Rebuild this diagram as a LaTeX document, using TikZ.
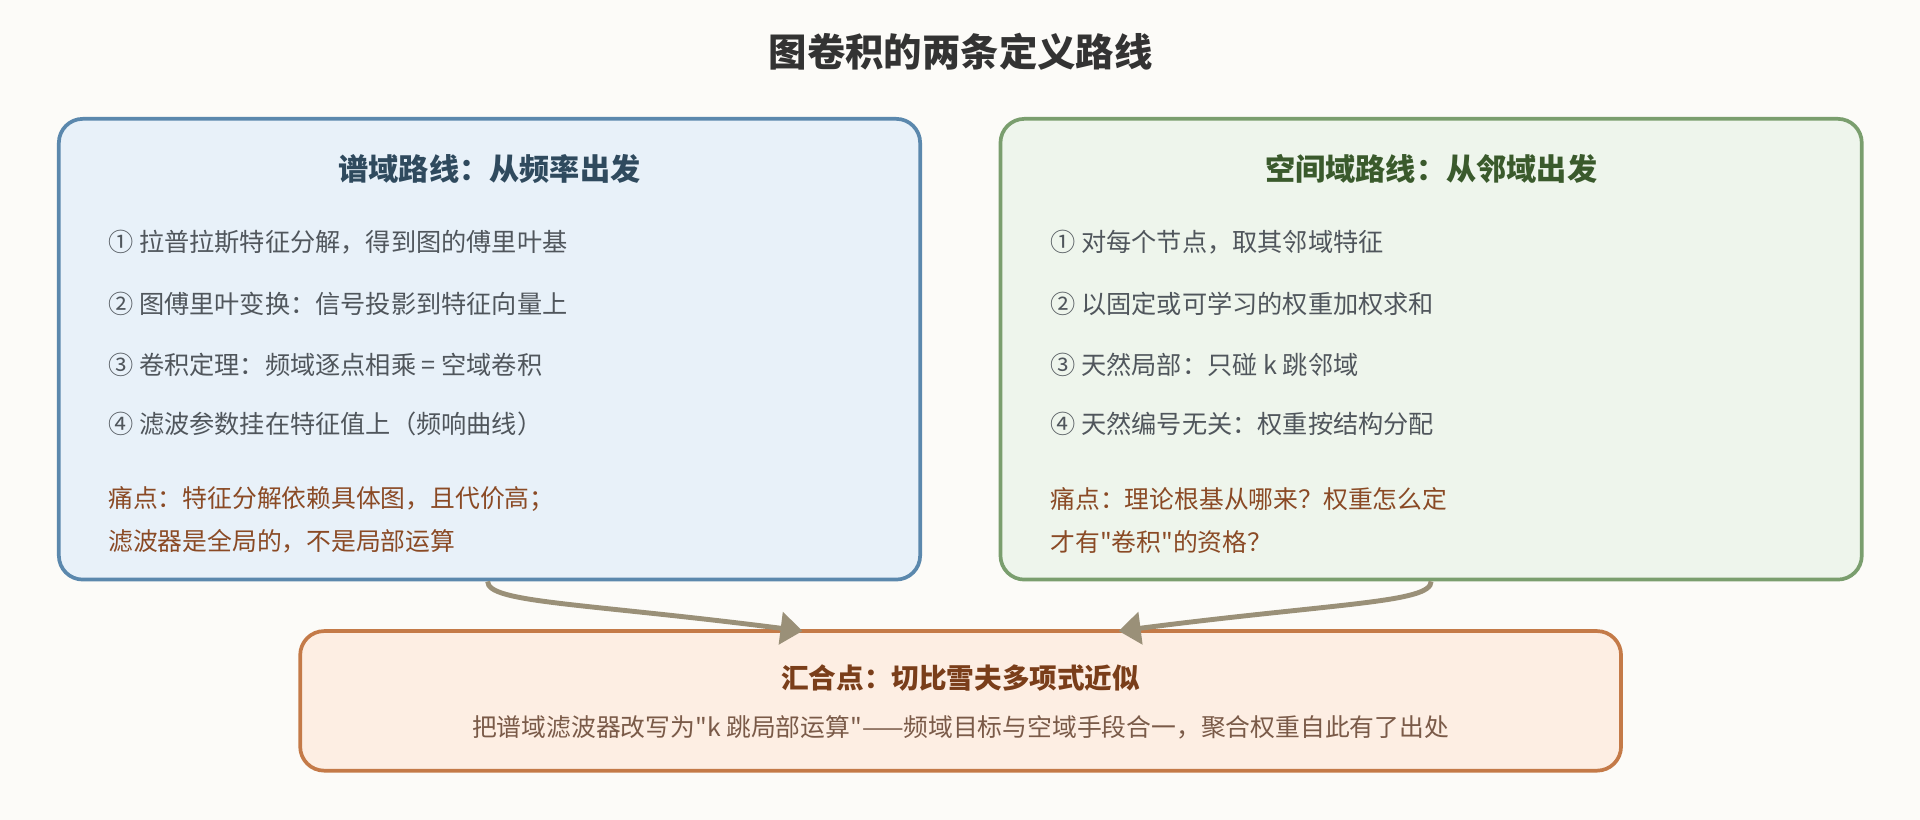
\documentclass[tikz,border=0pt]{standalone}
\usepackage{fontspec}
\setmainfont{Noto Sans CJK SC}[Ligatures=TeXOff]
\usepackage{xcolor}
\usetikzlibrary{arrows.meta}
\definecolor{bgpaper}{HTML}{FCFBF8}
\definecolor{specline}{HTML}{5B88AD}
\definecolor{specfill}{HTML}{E8F1F9}
\definecolor{spechead}{HTML}{2F4A5E}
\definecolor{spatline}{HTML}{7A9E6E}
\definecolor{spatfill}{HTML}{EEF5EC}
\definecolor{spathead}{HTML}{3A5A2C}
\definecolor{mergeline}{HTML}{C47A48}
\definecolor{mergefill}{HTML}{FDEEE3}
\definecolor{mergehead}{HTML}{7A3E1A}
\definecolor{mergetext}{HTML}{7A5A48}
\definecolor{itemtext}{HTML}{50565C}
\definecolor{paintext}{HTML}{8A4A25}
\definecolor{flowline}{HTML}{9A9078}

\begin{document}
\begin{tikzpicture}[x=0.6127pt, y=-0.6127pt,
	routebox/.style = {draw, line width=1.85pt, rounded corners=12pt, minimum width=430.7pt, minimum height=230.4pt},
	mergebox/.style = {draw=mergeline, fill=mergefill, line width=1.85pt, rounded corners=12pt, minimum width=660.5pt, minimum height=69.8pt},
	boxhead/.style = {font=\fontsize{15.1pt}{18pt}\selectfont\bfseries},
	item/.style = {anchor=west, inner sep=0pt, text=itemtext, font=\fontsize{12.6pt}{15pt}\selectfont},
	pain/.style = {anchor=west, inner sep=0pt, text=paintext, font=\fontsize{12.4pt}{15pt}\selectfont},
	flow/.style = {-{Triangle[length=11pt,width=16pt]}, line width=2.45pt, draw=flowline}]
	\fill [bgpaper] (0,0) rectangle (1567,669);
	\useasboundingbox (0,0) rectangle (1567,669);
	% title
	\node (title) at (784,42) {\fontsize{19.2pt}{22pt}\selectfont\bfseries\color[HTML]{333333}图卷积的两条定义路线};
	% the two routes
	\node [routebox, draw=specline, fill=specfill] (spec) at (399.5,285) {};
	\node [routebox, draw=spatline, fill=spatfill] (spat) at (1168,285) {};
	\node [boxhead, text=spechead] (spechd) at (399.5,138) {谱域路线：从频率出发};
	\node [boxhead, text=spathead] (spathd) at (1168,138) {空间域路线：从邻域出发};
	\node [item] (s1) at (88,198) {① 拉普拉斯特征分解，得到图的傅里叶基};
	\node [item] (s2) at (88,248) {② 图傅里叶变换：信号投影到特征向量上};
	\node [item] (s3) at (88,298) {③ 卷积定理：频域逐点相乘 = 空域卷积};
	\node [item] (s4) at (88,346) {④ 滤波参数挂在特征值上（频响曲线）};
	\node [pain] (sp1) at (88,407) {痛点：特征分解依赖具体图，且代价高；};
	\node [pain] (sp2) at (88,442) {滤波器是全局的，不是局部运算};
	\node [item] (n1) at (857,198) {① 对每个节点，取其邻域特征};
	\node [item] (n2) at (857,248) {② 以固定或可学习的权重加权求和};
	\node [item] (n3) at (857,298) {③ 天然局部：只碰 k 跳邻域};
	\node [item] (n4) at (857,346) {④ 天然编号无关：权重按结构分配};
	\node [pain] (np1) at (857,407) {痛点：理论根基从哪来？权重怎么定};
	\node [pain] (np2) at (857,442) {才有"卷积"的资格？};
	% where they meet
	\node [mergebox] (merge) at (784,572) {};
	\node [font=\fontsize{13.8pt}{16pt}\selectfont\bfseries, text=mergehead] (mergehd) at (784,553) {汇合点：切比雪夫多项式近似};
	\node [font=\fontsize{12.4pt}{15pt}\selectfont, text=mergetext] (mergetx) at (784,594) {把谱域滤波器改写为"k 跳局部运算"——频域目标与空域手段合一，聚合权重自此有了出处};
	\coordinate (inL) at (655,515);
	\coordinate (inR) at (913,515);
	\draw [flow] (spec.south -| 398,0) .. controls (398,492) and (475,492) .. (inL);
	\draw [flow] (spat.south) .. controls (1168,492) and (1092,492) .. (inR);
\end{tikzpicture}
\end{document}
